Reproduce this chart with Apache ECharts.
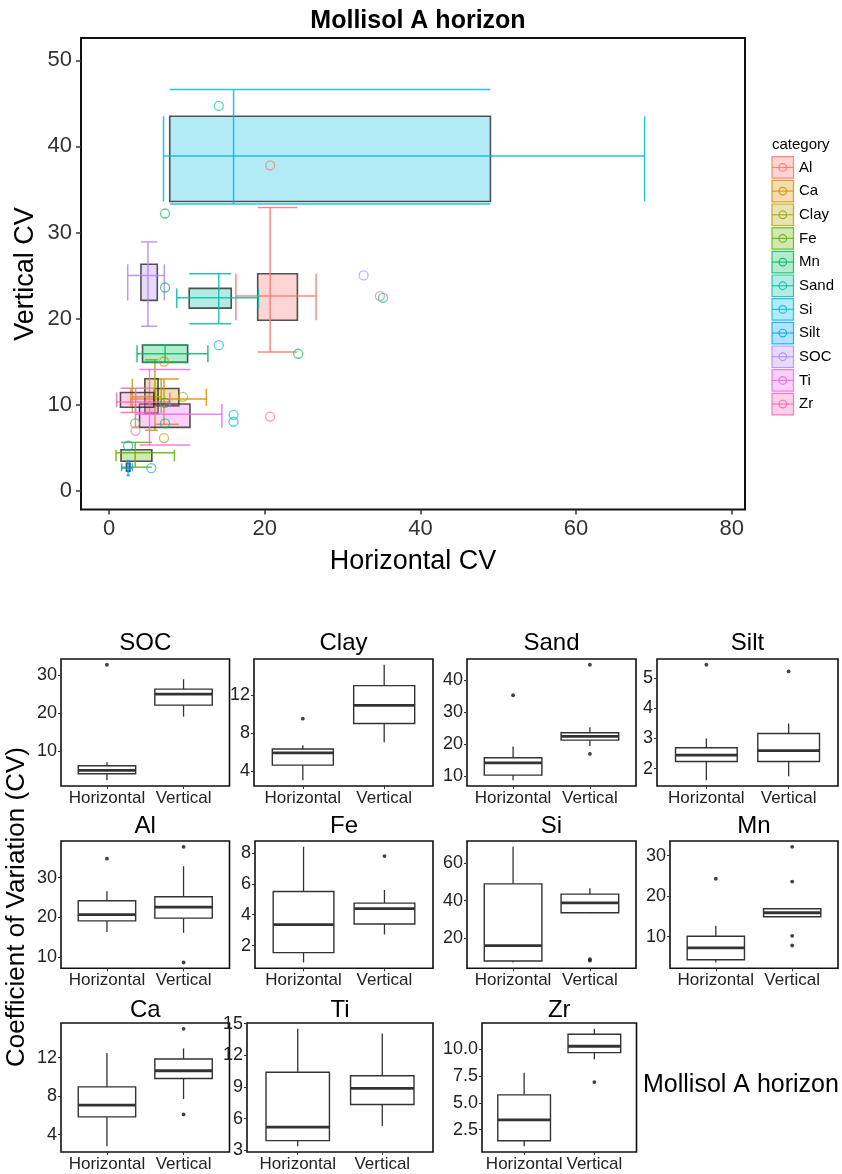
<!DOCTYPE html>
<html>
<head>
<meta charset="utf-8">
<script src="https://cdn.jsdelivr.net/npm/echarts@6/dist/echarts.min.js"></script>
<style>
  html, body { margin: 0; padding: 0; background: #ffffff; }
  #chart { width: 842px; height: 1174px; }
</style>
</head>
<body>
<div id="chart"></div>
<script>
// Soil properties measured in the Mollisol A horizon
const categories = ['Al', 'Ca', 'Clay', 'Fe', 'Mn', 'Sand', 'Si', 'Silt', 'SOC', 'Ti', 'Zr'];
const categoryColors = ['#F8766D', '#DB8E00', '#AEA200', '#64B200', '#00BD5C', '#00C1A7',
                        '#00BADE', '#00A6FF', '#B385FF', '#EF67EB', '#FF63B6'];

// Five-number summaries [lower whisker, Q1, median, Q3, upper whisker] of the horizontal CV
const horizontalStats = [
  [16.3, 19.1, 20.7, 24.2, 26.6],   // Al
  [2.8, 5.84, 7.06, 8.97, 12.5],    // Ca
  [3.0, 4.6, 5.9, 6.3, 6.7],        // Clay
  [0.9, 1.54, 3.36, 5.5, 8.4],      // Fe
  [3.6, 4.3, 7.2, 10.1, 12.7],      // Mn
  [8.7, 10.3, 14.1, 15.7, 19.2],    // Sand
  [7.0, 7.8, 16.0, 49.0, 68.8],     // Si
  [1.62, 2.24, 2.45, 2.69, 3.0],    // Silt
  [2.4, 4.1, 5.0, 6.2, 7.1],        // SOC
  [3.4, 3.92, 5.2, 10.4, 14.5],     // Ti
  [0.97, 1.47, 3.41, 5.75, 7.8]     // Zr
];
// Five-number summaries of the vertical CV
const verticalStats = [
  [16.1, 19.8, 22.6, 25.2, 32.9],   // Al
  [7.7, 9.84, 10.64, 11.86, 12.97], // Ca
  [7.0, 9.0, 10.9, 13.0, 15.2],     // Clay
  [2.72, 3.4, 4.39, 4.75, 5.6],     // Fe
  [14.9, 14.9, 15.9, 16.9, 16.9],   // Mn
  [19.4, 21.2, 22.4, 23.5, 25.2],   // Sand
  [33.3, 33.6, 38.9, 43.5, 46.6],   // Si
  [1.75, 2.24, 2.6, 3.16, 3.49],    // Silt
  [19.1, 22.1, 25.0, 26.3, 28.9],   // SOC
  [5.3, 7.34, 8.87, 10.06, 14.06],  // Ti
  [9.06, 9.69, 10.28, 11.4, 11.9]   // Zr
];
// Points beyond the whiskers
const horizontalOutliers = [[34.8], [], [9.5], [], [24.3], [35.2], [], [5.43], [32.7], [], []];
const verticalOutliers = [[37.8, 8.6], [15.0, 6.1], [], [7.8], [32.2, 23.6, 10.2, 7.8],
                          [44.7, 16.9], [8.0, 8.8], [5.21], [], [], [6.94]];

// Axis tick values
const mainXTicks = [0, 20, 40, 60, 80];
const mainYTicks = [0, 10, 20, 30, 40, 50];
const panelOrder = ['SOC', 'Clay', 'Sand', 'Silt', 'Al', 'Fe', 'Si', 'Mn', 'Ca', 'Ti', 'Zr'];
const panelTicks = [
  [10, 20, 30], [4, 8, 12], [10, 20, 30, 40], [2, 3, 4, 5],
  [10, 20, 30], [2, 4, 6, 8], [20, 40, 60], [10, 20, 30],
  [4, 8, 12], [3, 6, 9, 12, 15], [2.5, 5.0, 7.5, 10.0]
];
const groupLabels = ['Horizontal', 'Vertical'];

// Panel frames [left, top, right, bottom] in pixels
const panelFrames = [
  [61, 659, 229.5, 786], [254, 659, 433, 786], [467, 659, 636, 786], [657, 659, 838, 786],
  [61, 841, 229.5, 968.3], [255, 841, 433, 968.3], [467, 841, 636, 968.3], [670, 841, 838, 968.3],
  [61, 1023, 229.5, 1152], [247, 1023, 433, 1152], [482, 1023, 636.5, 1152]
];

const FONT = '"Liberation Sans", Arial, sans-serif';

function withAlpha(hex, a) {
  const n = parseInt(hex.slice(1), 16);
  return 'rgba(' + (n >> 16) + ',' + ((n >> 8) & 255) + ',' + (n & 255) + ',' + a + ')';
}

const grids = [], xAxes = [], yAxes = [], series = [], titles = [], graphics = [];

// ---------- Scatter of boxes: horizontal CV vs vertical CV ----------
grids.push({ left: 81, top: 38, width: 664, height: 471.5, show: true,
             borderColor: '#111', borderWidth: 2, backgroundColor: 'transparent' });
xAxes.push({
  type: 'value', gridIndex: 0, min: -3.6, max: 81.7,
  splitLine: { show: false }, axisLine: { show: false, onZero: false },
  axisTick: { show: true, length: 5, customValues: mainXTicks, lineStyle: { color: '#333', width: 1.5 } },
  axisLabel: { customValues: mainXTicks, fontSize: 22, color: '#333', margin: 8, fontFamily: FONT }
});
yAxes.push({
  type: 'value', gridIndex: 0, min: -2.2, max: 52.6,
  splitLine: { show: false }, axisLine: { show: false, onZero: false },
  axisTick: { show: true, length: 5, customValues: mainYTicks, lineStyle: { color: '#333', width: 1.5 } },
  axisLabel: { customValues: mainYTicks, fontSize: 22, color: '#333', margin: 9, fontFamily: FONT }
});

categories.forEach(function (cat, i) {
  const col = categoryColors[i];
  series.push({
    type: 'custom', name: cat, xAxisIndex: 0, yAxisIndex: 0, z: 2,
    data: [horizontalStats[i].concat(verticalStats[i])],
    encode: { x: [0, 1, 2, 3, 4], y: [5, 6, 7, 8, 9] },
    renderItem: function (params, api) {
      const h = [0, 1, 2, 3, 4].map(function (k) { return api.value(k); });
      const v = [5, 6, 7, 8, 9].map(function (k) { return api.value(k); });
      const P = function (x, y) { return api.coord([x, y]); };
      const ls = { stroke: withAlpha(col, 0.85), lineWidth: 1.5 };
      const seg = function (a, b) {
        return { type: 'line', shape: { x1: a[0], y1: a[1], x2: b[0], y2: b[1] }, style: ls };
      };
      const tl = P(h[1], v[3]), br = P(h[3], v[1]);
      return {
        type: 'group',
        children: [
          { type: 'rect', shape: { x: tl[0], y: tl[1], width: br[0] - tl[0], height: br[1] - tl[1] },
            style: { fill: withAlpha(col, 0.3), stroke: 'rgba(40,40,40,0.8)', lineWidth: 1.6 } },
          seg(P(h[0], v[2]), P(h[4], v[2])),
          seg(P(h[0], v[1]), P(h[0], v[3])),
          seg(P(h[4], v[1]), P(h[4], v[3])),
          seg(P(h[2], v[0]), P(h[2], v[4])),
          seg(P(h[1], v[0]), P(h[3], v[0])),
          seg(P(h[1], v[4]), P(h[3], v[4]))
        ]
      };
    }
  });
});
categories.forEach(function (cat, i) {
  const col = categoryColors[i];
  const pts = horizontalOutliers[i].map(function (x) { return [x, verticalStats[i][2]]; })
    .concat(verticalOutliers[i].map(function (y) { return [horizontalStats[i][2], y]; }));
  series.push({
    type: 'scatter', name: cat + ' outliers', xAxisIndex: 0, yAxisIndex: 0, z: 3,
    symbol: 'circle', symbolSize: 9, data: pts,
    itemStyle: { color: 'rgba(255,255,255,0)', borderColor: withAlpha(col, 0.85), borderWidth: 1.3 },
    silent: true
  });
});

titles.push({ text: 'Mollisol A horizon', left: 413, top: 4, textAlign: 'center',
  textStyle: { fontSize: 25, fontWeight: 'bold', color: '#000', fontFamily: FONT } });

graphics.push({ type: 'text', x: 413, y: 562,
  style: { text: 'Horizontal CV', font: '27px ' + FONT, fill: '#000', align: 'center', verticalAlign: 'middle' } });
graphics.push({ type: 'text', x: 26, y: 274, rotation: Math.PI / 2,
  style: { text: 'Vertical CV', font: '27px ' + FONT, fill: '#000', align: 'center', verticalAlign: 'middle' } });

// Legend
graphics.push({ type: 'text', x: 772, y: 145,
  style: { text: 'category', font: '15px ' + FONT, fill: '#000', align: 'left', verticalAlign: 'middle' } });
categories.forEach(function (cat, i) {
  const col = categoryColors[i];
  const y0 = 156.7 + i * 23.66, size = 21.5, cy = y0 + size / 2;
  graphics.push({ type: 'rect', shape: { x: 772, y: y0, width: size, height: size },
    style: { fill: withAlpha(col, 0.3), stroke: withAlpha(col, 0.85), lineWidth: 1.2 } });
  graphics.push({ type: 'line', shape: { x1: 772, y1: cy, x2: 772 + size, y2: cy },
    style: { stroke: withAlpha(col, 0.85), lineWidth: 1.2 } });
  graphics.push({ type: 'circle', shape: { cx: 772 + size / 2, cy: cy, r: 3.8 },
    style: { fill: 'none', stroke: withAlpha(col, 0.9), lineWidth: 1.2 } });
  graphics.push({ type: 'text', x: 799, y: cy,
    style: { text: cat, font: '15px ' + FONT, fill: '#000', align: 'left', verticalAlign: 'middle' } });
});

// ---------- Small multiples: horizontal vs vertical CV per property ----------
panelOrder.forEach(function (cat, p) {
  const idx = categories.indexOf(cat);
  const fr = panelFrames[p];
  const gi = p + 1;
  const hs = horizontalStats[idx], vs = verticalStats[idx];
  const allVals = hs.concat(vs, horizontalOutliers[idx], verticalOutliers[idx]);
  const lo = Math.min.apply(null, allVals), hi = Math.max.apply(null, allVals);
  const pad = (hi - lo) * 0.05;
  const ticks = panelTicks[p];
  const decimals = ticks.some(function (t) { return t % 1 !== 0; }) ? 1 : 0;

  grids.push({ left: fr[0], top: fr[1], width: fr[2] - fr[0], height: fr[3] - fr[1], show: true,
               borderColor: '#111', borderWidth: 1.6, backgroundColor: 'transparent' });
  xAxes.push({
    type: 'value', gridIndex: gi, min: 0.4, max: 2.6,
    splitLine: { show: false }, axisLine: { show: false, onZero: false },
    axisTick: { show: true, length: 3, customValues: [1, 2], lineStyle: { color: '#333', width: 1 } },
    axisLabel: { customValues: [1, 2], fontSize: 17, color: '#222', margin: 4, fontFamily: FONT,
                 formatter: function (v) { return groupLabels[Math.round(v) - 1]; } }
  });
  yAxes.push({
    type: 'value', gridIndex: gi, min: lo - pad, max: hi + pad,
    splitLine: { show: false }, axisLine: { show: false, onZero: false },
    axisTick: { show: true, length: 3, customValues: ticks, lineStyle: { color: '#333', width: 1 } },
    axisLabel: { customValues: ticks, fontSize: 18, color: '#222', margin: 4, fontFamily: FONT,
                 formatter: function (v) { return v.toFixed(decimals); } }
  });

  series.push({
    type: 'custom', name: cat + ' boxplot', xAxisIndex: gi, yAxisIndex: gi,
    data: [[1].concat(hs), [2].concat(vs)],
    encode: { x: 0, y: [1, 2, 3, 4, 5] },
    renderItem: function (params, api) {
      const x = api.value(0);
      const s = [1, 2, 3, 4, 5].map(function (k) { return api.value(k); });
      const tl = api.coord([x - 0.375, s[3]]), br = api.coord([x + 0.375, s[1]]);
      const cx = api.coord([x, s[2]])[0];
      const Y = function (v) { return api.coord([x, v])[1]; };
      const st = { stroke: '#333', lineWidth: 1.3 };
      return {
        type: 'group',
        children: [
          { type: 'line', shape: { x1: cx, y1: Y(s[3]), x2: cx, y2: Y(s[4]) }, style: st },
          { type: 'line', shape: { x1: cx, y1: Y(s[1]), x2: cx, y2: Y(s[0]) }, style: st },
          { type: 'rect', shape: { x: tl[0], y: tl[1], width: br[0] - tl[0], height: br[1] - tl[1] },
            style: { fill: '#fff', stroke: '#333', lineWidth: 1.4 } },
          { type: 'line', shape: { x1: tl[0], y1: Y(s[2]), x2: br[0], y2: Y(s[2]) },
            style: { stroke: '#333', lineWidth: 2.8 } }
        ]
      };
    }
  });
  const outPts = horizontalOutliers[idx].map(function (o) { return [1, o]; })
    .concat(verticalOutliers[idx].map(function (o) { return [2, o]; }));
  series.push({
    type: 'scatter', name: cat + ' outliers', xAxisIndex: gi, yAxisIndex: gi,
    symbol: 'circle', symbolSize: 3.8, data: outPts, itemStyle: { color: '#111' }, silent: true
  });

  const rowTitleY = fr[1] < 700 ? 643 : (fr[1] < 900 ? 826.5 : 1010);
  graphics.push({ type: 'text', x: (fr[0] + fr[2]) / 2, y: rowTitleY,
    style: { text: cat, font: '24px ' + FONT, fill: '#000', align: 'center', verticalAlign: 'middle' } });
});

graphics.push({ type: 'text', x: 17, y: 907, rotation: Math.PI / 2,
  style: { text: 'Coefficient of Variation (CV)', font: '26px ' + FONT, fill: '#000',
           align: 'center', verticalAlign: 'middle' } });
graphics.push({ type: 'text', x: 643, y: 1085,
  style: { text: 'Mollisol A horizon', font: '25px ' + FONT, fill: '#000',
           align: 'left', verticalAlign: 'middle' } });

const chart = echarts.init(document.getElementById('chart'));
chart.setOption({
  animation: false,
  backgroundColor: '#ffffff',
  title: titles,
  grid: grids,
  xAxis: xAxes,
  yAxis: yAxes,
  series: series,
  graphic: graphics
});
</script>
</body>
</html>
